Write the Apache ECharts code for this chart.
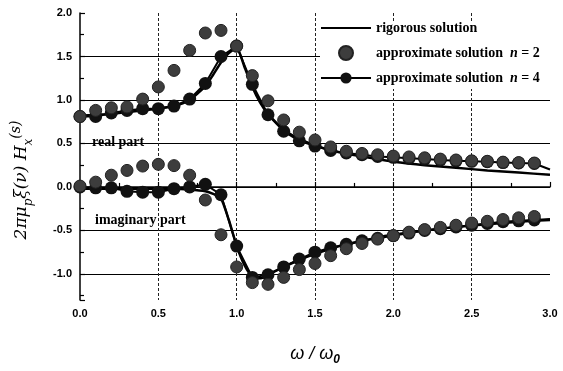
<!DOCTYPE html>
<html>
<head>
<meta charset="utf-8">
<script src="https://cdn.jsdelivr.net/npm/echarts@6/dist/echarts.min.js"></script>
<style>
  html, body { margin: 0; padding: 0; background: #fff; }
  #chart { width: 563px; height: 371px; }
</style>
</head>
<body>
<div id="chart"></div>
<script>
  // omega / omega0 sample points of the two approximations
  const omega = [0, 0.1, 0.2, 0.3, 0.4, 0.5, 0.6, 0.7, 0.8, 0.9, 1.0, 1.1, 1.2, 1.3, 1.4,
    1.5, 1.6, 1.7, 1.8, 1.9, 2.0, 2.1, 2.2, 2.3, 2.4, 2.5, 2.6, 2.7, 2.8, 2.9]
  const n2Real = [0.81, 0.88, 0.91, 0.92, 1.01, 1.15, 1.34, 1.57, 1.77, 1.80, 1.62, 1.28, 0.99, 0.77, 0.63,
    0.54, 0.46, 0.41, 0.385, 0.37, 0.355, 0.345, 0.335, 0.32, 0.31, 0.30, 0.295, 0.285, 0.28, 0.275]
  const n2Imag = [0.01, 0.055, 0.135, 0.19, 0.24, 0.26, 0.245, 0.135, -0.15, -0.55, -0.92, -1.10, -1.12, -1.04, -0.95,
    -0.88, -0.79, -0.71, -0.65, -0.60, -0.56, -0.52, -0.49, -0.465, -0.44, -0.415, -0.395, -0.375, -0.355, -0.34]
  // n = 4 has one extra point at 3.0 (line only)
  const omega4 = omega.concat([3.0])
  const n4Real = [0.81, 0.81, 0.85, 0.88, 0.90, 0.90, 0.93, 1.01, 1.19, 1.50, 1.62, 1.18, 0.83, 0.64, 0.53,
    0.47, 0.42, 0.39, 0.37, 0.35, 0.34, 0.33, 0.32, 0.31, 0.30, 0.295, 0.29, 0.28, 0.275, 0.27, 0.20]
  const n4Imag = [0.0, -0.01, -0.01, -0.05, -0.06, -0.06, -0.02, 0.0, 0.03, -0.09, -0.68, -1.04, -1.01, -0.92, -0.83,
    -0.75, -0.70, -0.66, -0.62, -0.59, -0.56, -0.53, -0.50, -0.48, -0.46, -0.44, -0.42, -0.40, -0.39, -0.38, -0.37]
  // rigorous solution curve
  const rigX = [0, 0.1, 0.2, 0.3, 0.4, 0.5, 0.6, 0.7, 0.8, 0.85, 0.9, 0.95, 1.0, 1.05, 1.1, 1.15, 1.2,
    1.3, 1.4, 1.5, 1.6, 1.7, 1.8, 1.9, 2.0, 2.2, 2.4, 2.6, 2.8, 3.0]
  const rigReal = [0.82, 0.83, 0.84, 0.86, 0.88, 0.90, 0.93, 1.0, 1.16, 1.29, 1.43, 1.54, 1.60, 1.38, 1.15, 0.97, 0.84,
    0.66, 0.55, 0.48, 0.42, 0.38, 0.35, 0.32, 0.29, 0.25, 0.22, 0.19, 0.165, 0.14]
  const rigImag = [-0.02, -0.02, -0.02, -0.02, -0.02, -0.02, -0.02, -0.03, -0.05, -0.08, -0.13, -0.38, -0.68, -0.90, -1.03, -1.05, -1.01,
    -0.92, -0.84, -0.77, -0.71, -0.66, -0.62, -0.58, -0.55, -0.50, -0.46, -0.43, -0.40, -0.38]

  const names = ['rigorous solution', 'approximate solution  n = 2', 'approximate solution  n = 4']

  const pairs = (xs, ys) => xs.map((x, i) => [x, ys[i]])
  // last n=4 point has no marker
  const n4Pairs = ys => pairs(omega4, ys).map((p, i) =>
    i === omega4.length - 1 ? { value: p, symbol: 'none' } : p)

  const chart = echarts.init(document.getElementById('chart'))

  const grayDot = { color: '#3d3d3d', borderColor: '#222', borderWidth: 1, opacity: 1 }

  const option = {
    animation: false,
    backgroundColor: '#fff',
    grid: { left: 80, right: 13, top: 13, bottom: 58 },
    legend: {
      data: [
        { name: names[0], icon: 'path://M0,0 L50,0 L50,2 L0,2 Z' },
        { name: names[1], icon: 'circle' },
        { name: names[2] }
      ],
      orient: 'vertical',
      left: 320,
      top: 21,
      padding: [0, 20, 4, 0],
      itemWidth: 50,
      itemHeight: 14,
      itemGap: 10,
      backgroundColor: '#fff',
      inactiveColor: '#000',
      textStyle: {
        fontFamily: 'Liberation Serif',
        fontWeight: 'bold',
        fontSize: 14,
        color: '#000',
        rich: {
          a: { fontFamily: 'Liberation Serif', fontWeight: 'bold', fontSize: 14, color: '#000' },
          i: { fontFamily: 'Liberation Serif', fontWeight: 'bold', fontStyle: 'italic', fontSize: 14, color: '#000' }
        }
      },
      formatter: function (name) {
        const m = name.match(/^(.*)n( = \d)$/)
        if (!m) return '{a|' + name + '}'
        return '{a|' + m[1] + '}{i|n}{a|' + m[2] + '}'
      }
    },
    xAxis: {
      type: 'value',
      min: 0,
      max: 3,
      interval: 0.5,
      name: '{m|ω / ω}{s|0}',
      nameLocation: 'middle',
      nameGap: 42,
      nameTextStyle: {
        rich: {
          m: { fontFamily: 'Liberation Sans', fontStyle: 'italic', fontSize: 18, color: '#000', lineHeight: 24 },
          s: { fontFamily: 'Liberation Sans', fontStyle: 'italic', fontWeight: 'bold', fontSize: 12, color: '#000', verticalAlign: 'bottom', lineHeight: 12 }
        }
      },
      axisLine: { lineStyle: { color: '#000', width: 1.5 } },
      axisTick: { inside: true, length: 5, lineStyle: { color: '#000', width: 1.2 } },
      minorTick: { show: true, splitNumber: 2, length: 4, lineStyle: { color: '#000', width: 1.2 } },
      axisLabel: {
        margin: 8,
        fontFamily: 'Liberation Sans',
        fontWeight: 'bold',
        fontSize: 11,
        color: '#000',
        formatter: v => v.toFixed(1)
      },
      splitLine: {
        show: true,
        showMinLine: false,
        showMaxLine: false,
        lineStyle: { color: '#222', width: 1, type: [3, 2] }
      }
    },
    yAxis: {
      type: 'value',
      min: -1.3,
      max: 2.0,
      axisLine: { show: true, lineStyle: { color: '#000', width: 1.5 } },
      axisTick: { show: true, inside: true, length: 5, lineStyle: { color: '#000', width: 1.2 } },
      minorTick: { show: true, splitNumber: 2, length: 4, lineStyle: { color: '#000', width: 1.2 } },
      axisLabel: {
        margin: 8,
        showMinLabel: false,
        fontFamily: 'Liberation Sans',
        fontWeight: 'bold',
        fontSize: 11,
        color: '#000',
        formatter: v => v.toFixed(1)
      },
      splitLine: {
        show: true,
        showMinLine: false,
        showMaxLine: false,
        lineStyle: { color: '#000', width: 1.2 }
      }
    },
    graphic: [
      {
        type: 'text',
        x: 22,
        y: 180,
        rotation: Math.PI / 2,
        style: {
          text: '{m|2πμ}{s|p}{m|ξ(ν) H}{s|x}{u|(s)}',
          align: 'center',
          verticalAlign: 'middle',
          rich: {
            m: { fontFamily: 'DejaVu Serif', fontStyle: 'italic', fontSize: 17, fill: '#000', lineHeight: 26 },
            s: { fontFamily: 'DejaVu Serif', fontStyle: 'italic', fontSize: 12, fill: '#000', lineHeight: 12, verticalAlign: 'bottom' },
            u: { fontFamily: 'DejaVu Serif', fontStyle: 'italic', fontSize: 14, fill: '#000', lineHeight: 14, verticalAlign: 'top' }
          }
        }
      },
      {
        type: 'text',
        x: 92,
        y: 142,
        style: {
          text: 'real part',
          fontFamily: 'Liberation Serif',
          fontWeight: 'bold',
          fontSize: 14,
          fill: '#000',
          verticalAlign: 'middle'
        }
      },
      {
        type: 'text',
        x: 95,
        y: 220,
        style: {
          text: 'imaginary part',
          fontFamily: 'Liberation Serif',
          fontWeight: 'bold',
          fontSize: 14,
          fill: '#000',
          verticalAlign: 'middle'
        }
      }
    ],
    series: [
      {
        name: names[0],
        type: 'line',
        data: pairs(rigX, rigReal),
        symbol: 'none',
        smooth: 0.2,
        z: 2,
        lineStyle: { color: '#000', width: 2.5 },
        itemStyle: { color: '#000' }
      },
      {
        name: names[0],
        type: 'line',
        data: pairs(rigX, rigImag),
        symbol: 'none',
        smooth: 0.2,
        z: 2,
        lineStyle: { color: '#000', width: 2.5 },
        itemStyle: { color: '#000' }
      },
      {
        name: names[2],
        type: 'line',
        data: n4Pairs(n4Real),
        symbol: 'circle',
        symbolSize: 13,
        z: 3,
        lineStyle: { color: '#000', width: 2 },
        itemStyle: { color: '#111' }
      },
      {
        name: names[2],
        type: 'line',
        data: n4Pairs(n4Imag),
        symbol: 'circle',
        symbolSize: 13,
        z: 3,
        lineStyle: { color: '#000', width: 2 },
        itemStyle: { color: '#111' }
      },
      {
        name: names[1],
        type: 'scatter',
        data: pairs(omega, n2Real),
        symbol: 'circle',
        symbolSize: 12,
        z: 4,
        itemStyle: grayDot
      },
      {
        name: names[1],
        type: 'scatter',
        data: pairs(omega, n2Imag),
        symbol: 'circle',
        symbolSize: 12,
        z: 4,
        itemStyle: grayDot
      }
    ]
  }

  chart.setOption(option)

  window.addEventListener('resize', () => {
    chart.resize()
  })
</script>
</body>
</html>
